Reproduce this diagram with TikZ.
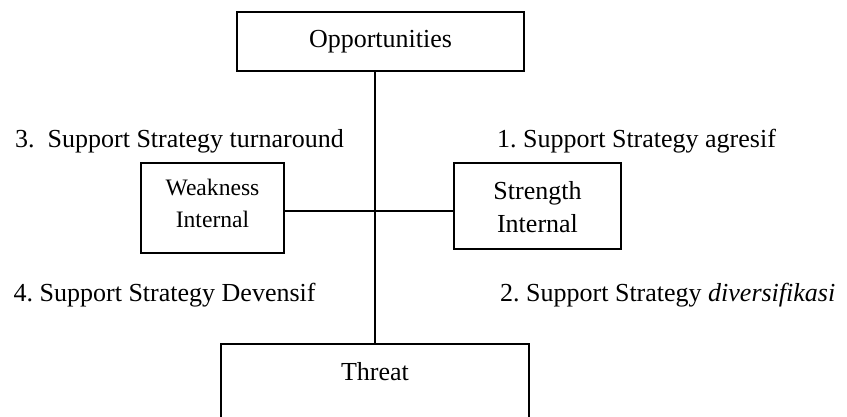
\documentclass[tikz,border=0pt]{standalone}
\usepackage{fontspec}
\setmainfont{Liberation Serif}
\frenchspacing
\begin{document}
\begin{tikzpicture}[x=1pt,y=-1pt,
  boxstyle/.style={draw=black,line width=1.4pt,rectangle,inner sep=0pt,fill=none},
  txt/.style={inner sep=0pt,font=\fontsize{26}{30}\selectfont},
  smalltxt/.style={inner sep=0pt,font=\fontsize{23.6}{28}\selectfont},
  conn/.style={draw=black,line width=1.4pt}]
\useasboundingbox (0,0) rectangle (847,416);
% boxes
\node[boxstyle,minimum width=287pt,minimum height=59pt] (opp) at (380.5,41.5) {};
\node[boxstyle,minimum width=308pt,minimum height=78pt] (thr) at (375,383) {};
\node[boxstyle,minimum width=143pt,minimum height=90pt] (weak) at (212.5,208) {};
\node[boxstyle,minimum width=167pt,minimum height=86pt] (str) at (537.5,206) {};
% box texts
\node[txt,anchor=base] (toppt) at (380.5,47) {Opportunities};
\node[txt,anchor=base] (tthr) at (375,380) {Threat};
\node[smalltxt,anchor=base] (tweak1) at (212.5,195) {Weakness};
\node[smalltxt,anchor=base] (tweak2) at (212.5,227) {Internal};
\node[txt,anchor=base] (tstr1) at (537.5,199) {Strength};
\node[txt,anchor=base] (tstr2) at (537.5,232) {Internal};
% quadrant labels
\node[txt,anchor=base west] (l3) at (15,147) {3.\hspace{0.5em}Support Strategy turnaround};
\node[txt,anchor=base west] (l1) at (497,147) {1. Support Strategy agresif};
\node[txt,anchor=base west] (l4) at (13.5,301) {4. Support Strategy Devensif};
\node[txt,anchor=base west] (l2) at (500,301) {2. Support Strategy \textit{diversifikasi}};
% connectors
\coordinate (hc) at (376,211);
\draw[conn] (thr.north |- opp.south) -- (thr.north);
\draw[conn] (weak.east |- hc) -- (str.west |- hc);
\end{tikzpicture}
\end{document}
